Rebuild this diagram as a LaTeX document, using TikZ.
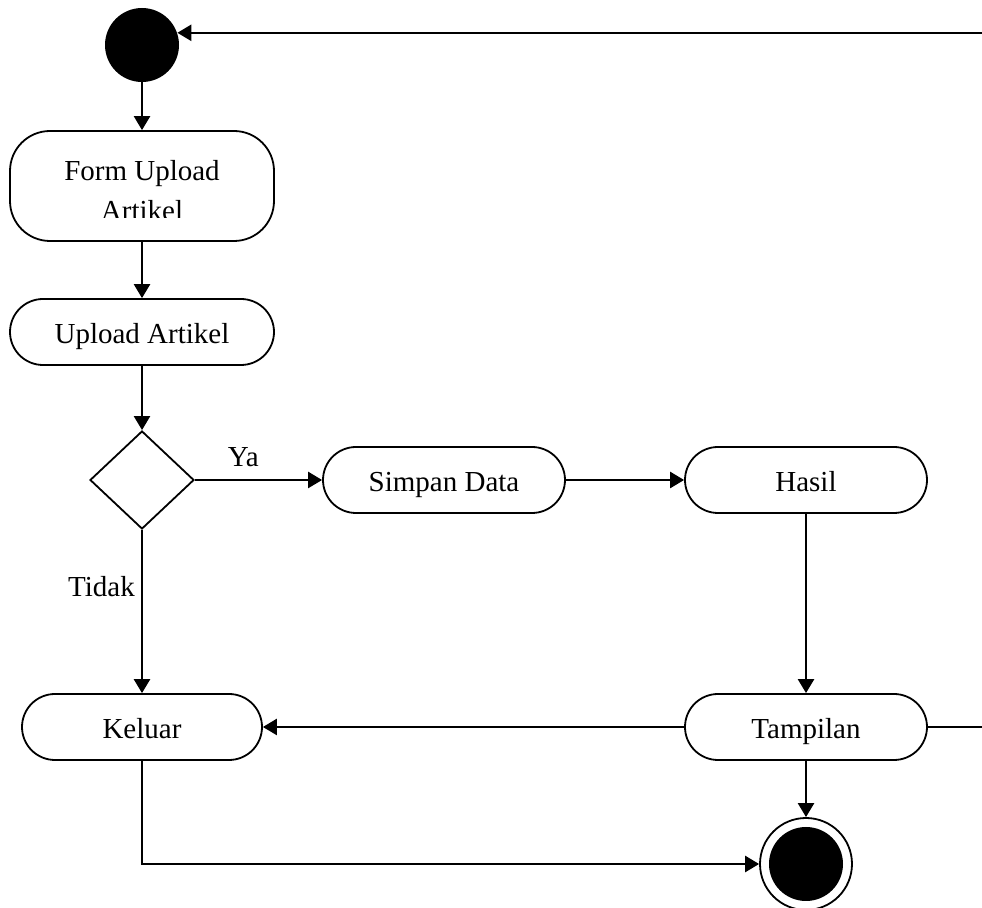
\documentclass[tikz,border=0pt]{standalone}
\usepackage{fontspec}
\setmainfont{Liberation Serif}
\usetikzlibrary{shapes.geometric, arrows.meta}

\begin{document}
\begin{tikzpicture}[x=0.5pt, y=-0.5pt,
	every node/.style={font=\fontsize{14.5}{20}\selectfont},
	act/.style={draw, line width=0.9pt, rounded corners=16.5pt, minimum width=121pt, minimum height=33pt, inner sep=0, text height=12pt, text depth=0pt},
	flow/.style={line width=1.25pt, -{Triangle[length=7pt, width=8pt]}},
	lbl/.style={inner sep=2pt}]

\useasboundingbox (0, 0) rectangle (982, 908);

\node[circle, fill=black, minimum size=37pt, inner sep=0] (start) at (142, 45) {};
\node[act, minimum width=132pt, minimum height=55pt, rounded corners=20pt] (form) at (142, 186) {};
\begin{scope}
	\clip (0, 131) rectangle (982, 218);
	\node[align=center] (formtext) at (142, 191) {Form Upload\\Artikel};
\end{scope}
\node[act, minimum width=132pt] (upload) at (142, 332) {Upload Artikel};
\node[diamond, draw, line width=0.9pt, minimum width=52pt, minimum height=49pt, inner sep=0] (cek) at (142, 480) {};
\node[act] (simpan) at (444, 480) {Simpan Data};
\node[act] (hasil) at (806, 480) {Hasil};
\node[act] (tampil) at (806, 727) {Tampilan};
\node[act, minimum width=120pt] (keluar) at (142, 727) {Keluar};
\node[circle, draw, fill=white, line width=0.9pt, minimum size=46pt, inner sep=0] (end) at (806, 864) {};
\fill (end.center) circle[radius=18.5pt];

\coordinate (edge) at (982, 0);

\draw[flow] (start) -- (form);
\draw[flow] (form) -- (upload);
\draw[flow] (upload) -- (cek);
\draw[flow] (cek) -- node[lbl, above=4pt, pos=0.38] (ya) {Ya} (simpan);
\draw[flow] (simpan) -- (hasil);
\draw[flow] (hasil) -- (tampil);
\draw[flow] (cek) -- node[lbl, left=1pt, pos=0.35] (tidak) {Tidak} (keluar);
\draw[flow] (tampil) -- (keluar);
\draw[flow] (tampil) -- (end);
\draw[flow] (keluar) |- (end);
\draw[line width=1.25pt] (tampil) -- (tampil -| edge);
\draw[flow] (start.19 -| edge) -- (start.19);

\end{tikzpicture}
\end{document}
